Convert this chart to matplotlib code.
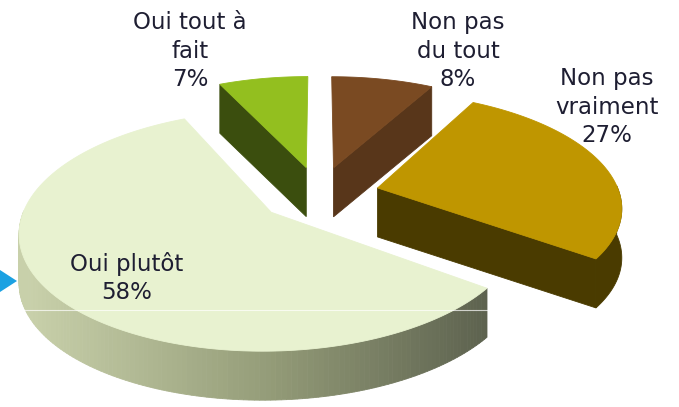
import numpy as np
import matplotlib
matplotlib.use("Agg")
import matplotlib.pyplot as plt
from matplotlib.patches import Polygon

# ---- data (clockwise from 12 o'clock) ----
categories = ["Non pas\ndu tout", "Non pas\nvraiment", "Oui plutôt", "Oui tout à\nfait"]
values = [8, 27, 58, 7]
top_colors = ["#7A4A22", "#BF9600", "#E8F2D0", "#93BF1F"]
side_colors = ["#58361A", "#4A3B00", None, "#3B4E0E"]
label_pos = [(458, 51), (607, 107), (127, 278), (190, 51)]

# ---- projection / layout parameters (pixels) ----
CX, CY = 319, 194
R, A, C = 242, 112, 0.15
H = 49
EXPLODE = 0.25


def proj(X, Z, down=0.0):
    p = 1.0 / (1.0 + C * Z)
    return CX + R * X * p, CY - A * Z * p + down


fig = plt.figure(figsize=(6.79, 4.07), dpi=100)
ax = fig.add_axes([0, 0, 1, 1])
ax.set_xlim(0, 679)
ax.set_ylim(407, 0)
ax.axis("off")

total = float(sum(values))
slices = []
cum = 0.0
for i, v in enumerate(values):
    a1 = 90 - 360 * cum / total
    a2 = 90 - 360 * (cum + v) / total
    cum += v
    mid = np.radians((a1 + a2) / 2)
    dx, dz = EXPLODE * np.cos(mid), EXPLODE * np.sin(mid)
    slices.append((i, a1, a2, dx, dz, np.sin(mid)))

# draw back slices first
for i, a1, a2, dx, dz, depth in sorted(slices, key=lambda s: -s[5]):
    th = np.radians(np.linspace(a1, a2, 200))
    X = dx + np.cos(th)
    Z = dz + np.sin(th)
    # outer wall (front half)
    vis = np.sin(th) < 0.02
    if vis.any():
        idx = np.where(vis)[0]
        if side_colors[i] is None:
            # gradient wall: light on the left to dark on the right
            c_left = np.array([200, 208, 170]) / 255
            c_mid = np.array([150, 158, 122]) / 255
            c_right = np.array([92, 97, 78]) / 255
            for j in range(idx[0], idx[-1]):
                x0, y0 = proj(X[j], Z[j])
                x1, y1 = proj(X[j + 1], Z[j + 1])
                t = np.clip(((x0 + x1) / 2 - 30) / 460, 0, 1)
                if t < 0.5:
                    col = c_left + (c_mid - c_left) * (t / 0.5)
                else:
                    col = c_mid + (c_right - c_mid) * ((t - 0.5) / 0.5)
                quad = [(x0, y0), (x1, y1), (x1, y1 + H), (x0, y0 + H)]
                ax.add_patch(Polygon(quad, closed=True, facecolor=col,
                                     edgecolor=col, lw=0.6))
        else:
            pts_top = [proj(X[j], Z[j]) for j in idx]
            pts_bot = [proj(X[j], Z[j], H) for j in idx[::-1]]
            ax.add_patch(Polygon(pts_top + pts_bot, closed=True,
                                 facecolor=side_colors[i],
                                 edgecolor=side_colors[i], lw=0.6))
    # radial walls (only those facing the viewer)
    if side_colors[i] is not None:
        for ang in (a1, a2):
            t = np.radians(ang)
            if ang == a1:
                nvec = (-np.sin(t), np.cos(t))
            else:
                nvec = (np.sin(t), -np.cos(t))
            if nvec[1] < -0.05:
                p0 = proj(dx, dz)
                p1 = proj(dx + np.cos(t), dz + np.sin(t))
                quad = [p0, p1, (p1[0], p1[1] + H), (p0[0], p0[1] + H)]
                ax.add_patch(Polygon(quad, closed=True,
                                     facecolor=side_colors[i],
                                     edgecolor=side_colors[i], lw=0.6))
    # top face
    pts = [proj(dx, dz)] + [proj(X[j], Z[j]) for j in range(len(th))]
    ax.add_patch(Polygon(pts, closed=True, facecolor=top_colors[i],
                         edgecolor=top_colors[i], lw=0.6))

# faint scan line artifact across the big slice
ax.plot([20, 487], [310, 310], color="white", lw=0.8, alpha=0.7)

# labels
for i, (x, y) in enumerate(label_pos):
    pct = f"{values[i]}%"
    ax.text(x, y, f"{categories[i]}\n{pct}", ha="center", va="center",
            fontsize=16.5, color="#1E1E32", family="DejaVu Sans",
            linespacing=1.3)

# blue bullet arrow at the left edge
ax.add_patch(Polygon([(0, 270), (17, 281), (0, 292)], closed=True,
                     facecolor="#1BA1E2", edgecolor="none"))

fig.savefig("out.png", dpi=100)
